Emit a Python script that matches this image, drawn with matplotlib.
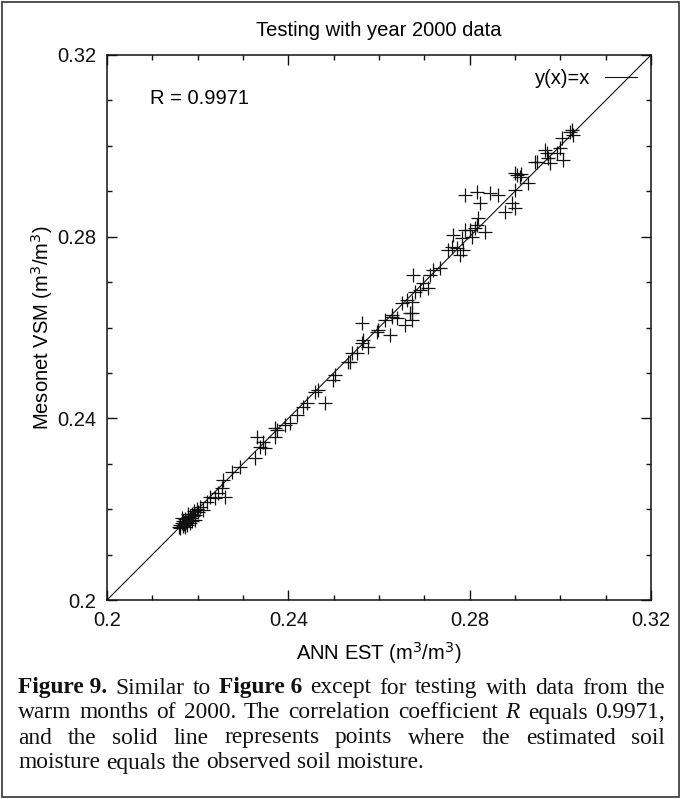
import matplotlib
matplotlib.use("Agg")
import matplotlib.pyplot as plt
from matplotlib.patches import Rectangle
from matplotlib.ticker import MultipleLocator

# ---- data ----
ann_est = [
    0.2158, 0.2160, 0.2162, 0.2165, 0.2167, 0.2168, 0.2170, 0.2172, 0.2173, 0.2175,
    0.2176, 0.2178, 0.2180, 0.2182, 0.2183, 0.2185, 0.2187, 0.2190, 0.2192, 0.2195,
    0.2198, 0.2200, 0.2188, 0.2178, 0.2165, 0.2195,
    0.2205, 0.2212, 0.2221, 0.2227, 0.2238, 0.2245, 0.2260, 0.2254, 0.2256, 0.2276,
    0.2293, 0.2326, 0.2331, 0.2344, 0.2349, 0.2338, 0.2371, 0.2375, 0.2371, 0.2393,
    0.2404, 0.2419, 0.2432, 0.2441, 0.2459, 0.2465, 0.2481, 0.2499, 0.2503, 0.2536,
    0.2540, 0.2532, 0.2552, 0.2563, 0.2563, 0.2565, 0.2576, 0.2596, 0.2598, 0.2624,
    0.2613, 0.2629, 0.2640, 0.2651, 0.2662, 0.2673, 0.2668, 0.2657, 0.2673, 0.2629,
    0.2673, 0.2679, 0.2690, 0.2697, 0.2708, 0.2713, 0.2719, 0.2735, 0.2675, 0.2752,
    0.2761, 0.2772, 0.2779, 0.2785, 0.2763, 0.2783, 0.2790, 0.2801, 0.2805, 0.2812,
    0.2818, 0.2834, 0.2816, 0.2823, 0.2790, 0.2816, 0.2845, 0.2863, 0.2878, 0.2893,
    0.2900, 0.2900, 0.2904, 0.2900, 0.2913, 0.2929, 0.2949, 0.2977, 0.2911, 0.2944,
    0.2966, 0.2973, 0.2971, 0.2999, 0.3004, 0.3006, 0.3026, 0.3028, 0.3021, 0.2993,
]
mesonet_vsm = [
    0.2160, 0.2165, 0.2158, 0.2170, 0.2163, 0.2175, 0.2168, 0.2160, 0.2178, 0.2172,
    0.2165, 0.2182, 0.2176, 0.2170, 0.2186, 0.2180, 0.2190, 0.2184, 0.2195, 0.2188,
    0.2200, 0.2194, 0.2175, 0.2190, 0.2180, 0.2176,
    0.2205, 0.2198, 0.2216, 0.2227, 0.2225, 0.2236, 0.2227, 0.2247, 0.2264, 0.2282,
    0.2293, 0.2313, 0.2359, 0.2348, 0.2335, 0.2337, 0.2359, 0.2374, 0.2379, 0.2385,
    0.2390, 0.2407, 0.2425, 0.2434, 0.2458, 0.2462, 0.2434, 0.2484, 0.2495, 0.2524,
    0.2544, 0.2524, 0.2544, 0.2610, 0.2566, 0.2573, 0.2557, 0.2590, 0.2595, 0.2584,
    0.2617, 0.2623, 0.2621, 0.2654, 0.2661, 0.2656, 0.2632, 0.2606, 0.2617, 0.2628,
    0.2632, 0.2678, 0.2683, 0.2698, 0.2687, 0.2716, 0.2727, 0.2731, 0.2716, 0.2771,
    0.2777, 0.2775, 0.2760, 0.2771, 0.2804, 0.2797, 0.2815, 0.2815, 0.2799, 0.2819,
    0.2841, 0.2810, 0.2826, 0.2874, 0.2892, 0.2898, 0.2896, 0.2892, 0.2854, 0.2874,
    0.2863, 0.2903, 0.2936, 0.2940, 0.2938, 0.2918, 0.2964, 0.2962, 0.2931, 0.2964,
    0.2991, 0.2973, 0.2984, 0.2995, 0.3017, 0.2969, 0.3035, 0.3024, 0.3031, 0.2984,
]
axis_range = [0.2, 0.32]
tick_values = [0.2, 0.24, 0.28, 0.32]
tick_labels = ["0.2", "0.24", "0.28", "0.32"]
r_text = "R = 0.9971"
title = "Testing with year 2000 data"

W, H = 681, 799
fig = plt.figure(figsize=(W / 100, H / 100), dpi=100)
plt.rcParams['font.family'] = ['Liberation Sans', 'DejaVu Sans']
FS = 14.5

ax = fig.add_axes([107 / W, 1 - 600 / H, 544 / W, 545 / H])
ax.plot(ann_est, mesonet_vsm, linestyle='none', marker='+', markersize=9.5,
        markeredgewidth=0.9, color='#111111')
ax.plot(axis_range, axis_range, color='#111111', linewidth=0.8, label='y(x)=x')
ax.set_xlim(axis_range)
ax.set_ylim(axis_range)
ax.set_xticks(tick_values)
ax.set_xticklabels(tick_labels)
ax.set_yticks(tick_values)
ax.set_yticklabels(tick_labels)
ax.xaxis.set_minor_locator(MultipleLocator(0.01))
ax.yaxis.set_minor_locator(MultipleLocator(0.01))
ax.tick_params(which='both', direction='in', top=True, right=True, labelsize=FS,
               colors='#111111')
ax.tick_params(which='major', length=7, width=1, pad=8)
ax.tick_params(which='minor', length=3.6, width=1)
for s in ax.spines.values():
    s.set_linewidth(1.1)
    s.set_color('#111111')
ax.set_xlabel("ANN EST (m$^3$/m$^3$)", fontsize=FS, labelpad=7)
ax.set_ylabel("Mesonet VSM (m$^3$/m$^3$)", fontsize=FS, labelpad=1)
ax.set_title(title, fontsize=FS, pad=14)
ax.text(0.079, 0.921, r_text, transform=ax.transAxes, fontsize=FS, va='center')
leg = ax.legend(loc='upper right', frameon=False, markerfirst=False, fontsize=FS,
                handlelength=1.6, borderaxespad=0.3, handletextpad=0.7)

# outer border
fig.patches.append(Rectangle((2 / W, 2 / H), 1 - 4 / W, 1 - 4 / H, transform=fig.transFigure,
                             fill=False, edgecolor='#333333', linewidth=1.2))

# caption with justified lines
caption_lines = [
    ([("Figure 9.", 'bold', 'normal'), ("Similar", 'normal', 'normal'), ("to", 'normal', 'normal'),
      ("Figure 6", 'bold', 'normal'), ("except", 'normal', 'normal'), ("for", 'normal', 'normal'),
      ("testing", 'normal', 'normal'), ("with", 'normal', 'normal'), ("data", 'normal', 'normal'),
      ("from", 'normal', 'normal'), ("the", 'normal', 'normal')], True),
    ([(w, 'normal', 'normal') for w in "warm months of 2000. The correlation coefficient".split()]
     + [("R", 'normal', 'italic'), ("equals", 'normal', 'normal'), ("0.9971,", 'normal', 'normal')], True),
    ([(w, 'normal', 'normal') for w in "and the solid line represents points where the estimated soil".split()], True),
    ([(w, 'normal', 'normal') for w in "moisture equals the observed soil moisture.".split()], False),
]
cap_left, cap_right = 18, 665
cap_y = [688, 713, 738, 763]
cap_size = 16.8
renderer = fig.canvas.get_renderer()
for (words, justify), ypx in zip(caption_lines, cap_y):
    texts = []
    for w, wt, st in words:
        t = fig.text(0, 1 - ypx / H, w, fontsize=cap_size, fontweight=wt, fontstyle=st,
                     family=['Liberation Serif', 'DejaVu Serif'], va='center', ha='left',
                     color='#111111')
        texts.append(t)
    widths = [t.get_window_extent(renderer).width for t in texts]
    sp = fig.text(0, 0, "a b", fontsize=cap_size, family=['Liberation Serif'])
    sp2 = fig.text(0, 0, "ab", fontsize=cap_size, family=['Liberation Serif'])
    space = sp.get_window_extent(renderer).width - sp2.get_window_extent(renderer).width
    sp.remove(); sp2.remove()
    if justify and len(words) > 1:
        gap = (cap_right - cap_left - sum(widths)) / (len(words) - 1)
    else:
        gap = space
    x = cap_left
    for t, wdt in zip(texts, widths):
        t.set_x(x / W)
        x += wdt + gap

fig.savefig("out.png", dpi=100)
